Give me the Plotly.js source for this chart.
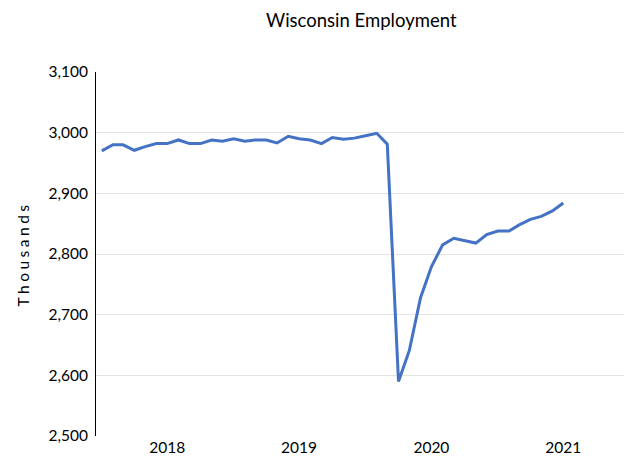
<!DOCTYPE html>
<html>
<head>
<meta charset="utf-8">
<script src="https://cdn.plot.ly/plotly-3.0.1.min.js"></script>
<style>
  html, body { margin: 0; padding: 0; background: #fff; }
  #chart { width: 624px; height: 464px; }
  .ytitle { letter-spacing: 3.5px; }
</style>
</head>
<body>
<div id="chart"></div>
<script>
// Monthly dates, Jan 2018 – Jul 2021
const months = [
  "2018-01-01","2018-02-01","2018-03-01","2018-04-01","2018-05-01","2018-06-01",
  "2018-07-01","2018-08-01","2018-09-01","2018-10-01","2018-11-01","2018-12-01",
  "2019-01-01","2019-02-01","2019-03-01","2019-04-01","2019-05-01","2019-06-01",
  "2019-07-01","2019-08-01","2019-09-01","2019-10-01","2019-11-01","2019-12-01",
  "2020-01-01","2020-02-01","2020-03-01","2020-04-01","2020-05-01","2020-06-01",
  "2020-07-01","2020-08-01","2020-09-01","2020-10-01","2020-11-01","2020-12-01",
  "2021-01-01","2021-02-01","2021-03-01","2021-04-01","2021-05-01","2021-06-01",
  "2021-07-01"
];
// Employment, thousands
const employment = [
  2970, 2980, 2980, 2971, 2977, 2982, 2982, 2988, 2982, 2982, 2988, 2986,
  2990, 2986, 2988, 2988, 2983, 2994, 2990, 2988, 2982, 2992, 2989, 2991,
  2995, 2999, 2981, 2590, 2641, 2728, 2779, 2815, 2826, 2822, 2818, 2832,
  2838, 2838, 2848, 2857, 2862, 2871, 2884
];
const yearTickPositions = ["2018-07-01", "2019-07-01", "2020-07-01", "2021-07-01"];
const yearTickLabels = ["2018", "2019", "2020", "2021"];
const yTicks = [2500, 2600, 2700, 2800, 2900, 3000, 3100];
const yGridTicks = [2600, 2700, 2800, 2900, 3000];

const FONT = "Lato, Carlito, 'Open Sans', sans-serif";

const traces = [{
  x: [months[0]], y: [employment[0]], yaxis: "y2",
  type: "scatter", mode: "none", hoverinfo: "skip", showlegend: false
}, {
  x: months,
  y: employment,
  type: "scatter",
  mode: "lines",
  line: { color: "#4472C4", width: 3 },
  hoverinfo: "skip"
}];

const layout = {
  width: 624,
  height: 464,
  margin: { l: 96, r: 0, t: 72, b: 28 },
  paper_bgcolor: "#ffffff",
  plot_bgcolor: "#ffffff",
  showlegend: false,
  font: { family: FONT, color: "#000000", size: 15 },
  title: {
    text: "Wisconsin Employment",
    font: { family: FONT, size: 18.5, color: "#000000" },
    x: 0.579, xanchor: "center",
    y: 0.955, yanchor: "middle"
  },
  xaxis: {
    type: "date",
    range: ["2017-12-16", "2021-12-16"],
    tickmode: "array",
    tickvals: yearTickPositions,
    ticktext: yearTickLabels,
    showgrid: false,
    showline: false,
    zeroline: false,
    ticks: "",
    tickfont: { family: FONT, size: 15.5, color: "#000000" },
    fixedrange: true
  },
  yaxis: {
    range: [2500, 3100],
    tickmode: "array",
    tickvals: yTicks,
    ticktext: yTicks.map(v => v.toLocaleString("en-US")),
    showgrid: false,
    showline: true,
    linecolor: "#000000",
    linewidth: 1,
    zeroline: false,
    ticks: "",
    ticklabelstandoff: 4,
    tickfont: { family: FONT, size: 15.5, color: "#000000" },
    title: {
      text: "Thousands",
      font: { family: FONT, size: 15.5, color: "#000000" },
      standoff: 14
    },
    fixedrange: true
  },
  yaxis2: {
    overlaying: "y",
    range: [2500, 3100],
    tickmode: "array",
    tickvals: yGridTicks,
    showticklabels: false,
    showgrid: true,
    gridcolor: "#e4e4e4",
    gridwidth: 1,
    showline: false,
    zeroline: false,
    ticks: "",
    fixedrange: true
  }
};

Plotly.newPlot("chart", traces, layout, { displayModeBar: false, staticPlot: true });
</script>
</body>
</html>
